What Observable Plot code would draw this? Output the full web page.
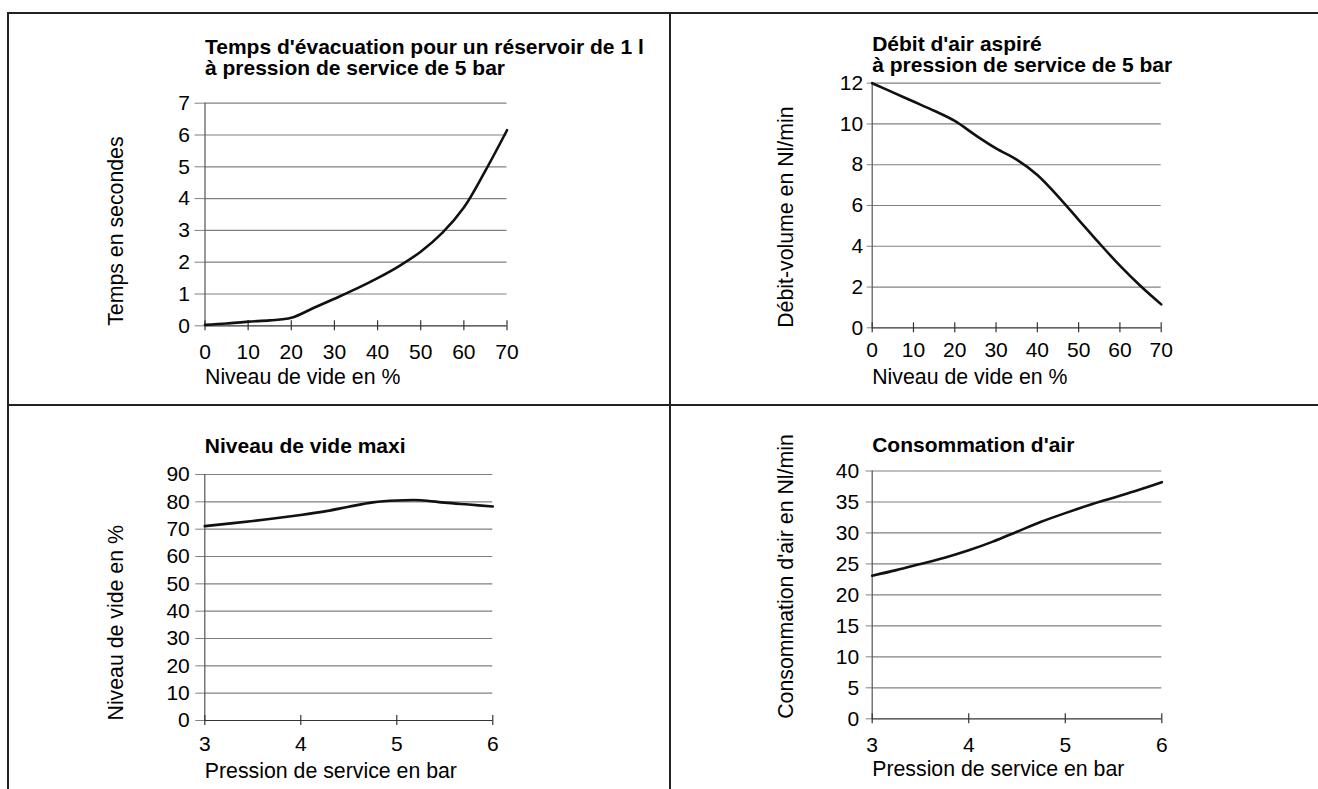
<!DOCTYPE html>
<html><head><meta charset="utf-8">
<script src="https://cdn.jsdelivr.net/npm/d3@7"></script>
<script src="https://cdn.jsdelivr.net/npm/@observablehq/plot@0.6"></script>
<style>
body{margin:0;background:#fff;}
#page{position:relative;width:1318px;height:789px;overflow:hidden;background:#fff;font-family:"Liberation Sans",Arial,sans-serif;}
.panel{position:absolute;}
.panel svg{overflow:visible;}
.rule{position:absolute;background:#222;}
</style></head><body><div id="page"></div>
<script>
// ---- Data ----
const vide = [0, 5, 10, 15, 20, 25, 30, 35, 40, 45, 50, 55, 60, 65, 70];
const tempsEvacuation = [0.03, 0.07, 0.13, 0.17, 0.25, 0.55, 0.85, 1.16, 1.5, 1.88, 2.33, 2.92, 3.72, 4.88, 6.15];
const debitAspire = [12, 11.55, 11.1, 10.65, 10.15, 9.45, 8.8, 8.25, 7.5, 6.45, 5.3, 4.15, 3.05, 2.05, 1.15];

const pressionVide = [3, 3.5, 4, 4.25, 4.5, 4.75, 5, 5.25, 5.5, 5.75, 6];
const videMaxi = [71.1, 73, 75.2, 76.5, 78.2, 79.8, 80.5, 80.6, 79.7, 79, 78.3];

const pressionConso = [3, 3.25, 3.5, 3.75, 4, 4.25, 4.5, 4.75, 5, 5.25, 5.5, 5.75, 6];
const consommation = [23.1, 24, 25, 26, 27.2, 28.6, 30.2, 31.8, 33.2, 34.5, 35.7, 36.9, 38.2];

const ticksVide = [0, 10, 20, 30, 40, 50, 60, 70];
const ticksPression = [3, 4, 5, 6];
const ticksTemps = [0, 1, 2, 3, 4, 5, 6, 7];
const ticksDebit = [0, 2, 4, 6, 8, 10, 12];
const ticksVideMaxi = [0, 10, 20, 30, 40, 50, 60, 70, 80, 90];
const ticksConso = [0, 5, 10, 15, 20, 25, 30, 35, 40];

const titles = [
  "Temps d'évacuation pour un réservoir de 1 l\nà pression de service de 5 bar",
  "Débit d'air aspiré\nà pression de service de 5 bar",
  "Niveau de vide maxi",
  "Consommation d'air"
];
const xLabels = ["Niveau de vide en %", "Niveau de vide en %", "Pression de service en bar", "Pression de service en bar"];
const yLabels = ["Temps en secondes", "Débit-volume en Nl/min", "Niveau de vide en %", "Consommation d'air en Nl/min"];

// ---- Layout ----
const FONT = "Liberation Sans, Arial, Helvetica, sans-serif";
const page = document.getElementById("page");

function addRule(l, t, w, h) {
  const d = document.createElement("div");
  d.className = "rule";
  Object.assign(d.style, {left: l + "px", top: t + "px", width: w + "px", height: h + "px"});
  page.appendChild(d);
}
addRule(6.5, 11.5, 1318, 2);   // top border
addRule(6.5, 11.5, 2, 800);    // left border
addRule(6.5, 404, 1318, 2);    // horizontal divider
addRule(669, 11.5, 2, 800);    // vertical divider

function panel(cfg) {
  const {left, top, w, h, frame, xDomain, yDomain, xTicks, yTicks, xs, ys,
         title, titleDy, xLabel, xLabelDy, yLabel, yLabelDx,
         yTickSize, yTickPad, xTickPad} = cfg;
  const data = xs.map((x, i) => ({x, y: ys[i]}));
  const mL = frame[0] - left, mR = left + w - frame[1];
  const mT = frame[2] - top, mB = top + h - frame[3];
  const chart = Plot.plot({
    width: w, height: h,
    marginLeft: mL, marginRight: mR, marginTop: mT, marginBottom: mB,
    style: {fontFamily: FONT, fontSize: "21px", color: "#000", background: "transparent", overflow: "visible"},
    x: {domain: xDomain},
    y: {domain: yDomain},
    marks: [
      Plot.gridY(yTicks.filter(t => t !== yDomain[0]), {stroke: "#808080", strokeOpacity: 1, strokeWidth: 1.2}),
      Plot.axisY(yTicks, {tickSize: yTickSize, tickPadding: yTickPad, stroke: "#808080", label: null, fontSize: 21, fill: "#000"}),
      Plot.ruleX([xDomain[0]], {stroke: "#555", strokeWidth: 1.2}),
      Plot.ruleY([yDomain[0]], {stroke: "#333", strokeWidth: 1.2}),
      Plot.ruleX(xTicks, {x: d => d, y1: yDomain[0], y2: yDomain[0], insetTop: -5, insetBottom: -5, stroke: "#333", strokeWidth: 1.2}),
      Plot.axisX(xTicks, {tickSize: 0, tickPadding: xTickPad, label: null, fontSize: 21, fill: "#000"}),
      Plot.line(data, {x: "x", y: "y", curve: "catmull-rom", stroke: "#111", strokeWidth: 2.6}),
      Plot.text([title], {text: d => d, frameAnchor: "top-left", textAnchor: "start", lineAnchor: "bottom",
        dy: titleDy, fontWeight: "bold", fontSize: 21, lineHeight: 1.0, fill: "#000"}),
      Plot.text([xLabel], {text: d => d, frameAnchor: "bottom-left", textAnchor: "start", lineAnchor: "bottom",
        dy: xLabelDy, fontSize: 21.3, fill: "#000"}),
      Plot.text([yLabel], {text: d => d, frameAnchor: "bottom-left", textAnchor: "start", lineAnchor: "bottom",
        rotate: -90, dx: yLabelDx, fontSize: 21.3, fill: "#000"})
    ]
  });
  const div = document.createElement("div");
  div.className = "panel";
  div.style.left = left + "px";
  div.style.top = top + "px";
  div.appendChild(chart);
  page.appendChild(div);
}

panel({left: 0, top: 0, w: 668, h: 404, frame: [204.5, 506.5, 102.7, 325.3],
  xDomain: [0, 70], yDomain: [0, 7], xTicks: ticksVide, yTicks: ticksTemps,
  xs: vide, ys: tempsEvacuation, title: titles[0], titleDy: -28,
  xLabel: xLabels[0], xLabelDy: 58, yLabel: yLabels[0], yLabelDx: -82,
  yTickSize: 10, yTickPad: 5, xTickPad: 18});

panel({left: 670, top: 0, w: 648, h: 404, frame: [871.7, 1160.7, 82.7, 327.3],
  xDomain: [0, 70], yDomain: [0, 12], xTicks: ticksVide, yTicks: ticksDebit,
  xs: vide, ys: debitAspire, title: titles[1], titleDy: -11,
  xLabel: xLabels[1], xLabelDy: 56, yLabel: yLabels[1], yLabelDx: -79,
  yTickSize: 5, yTickPad: 4, xTickPad: 14});

panel({left: 0, top: 406, w: 668, h: 383, frame: [204.3, 492.3, 474, 720],
  xDomain: [3, 6], yDomain: [0, 90], xTicks: ticksPression, yTicks: ticksVideMaxi,
  xs: pressionVide, ys: videMaxi, title: titles[2], titleDy: -22,
  xLabel: xLabels[2], xLabelDy: 57, yLabel: yLabels[2], yLabelDx: -82,
  yTickSize: 9, yTickPad: 6, xTickPad: 16});

panel({left: 670, top: 406, w: 648, h: 383, frame: [871.7, 1161.3, 470.5, 718.3],
  xDomain: [3, 6], yDomain: [0, 40], xTicks: ticksPression, yTicks: ticksConso,
  xs: pressionConso, ys: consommation, title: titles[3], titleDy: -19,
  xLabel: xLabels[3], xLabelDy: 57, yLabel: yLabels[3], yLabelDx: -79,
  yTickSize: 6, yTickPad: 7, xTickPad: 18});
</script>
</body></html>
